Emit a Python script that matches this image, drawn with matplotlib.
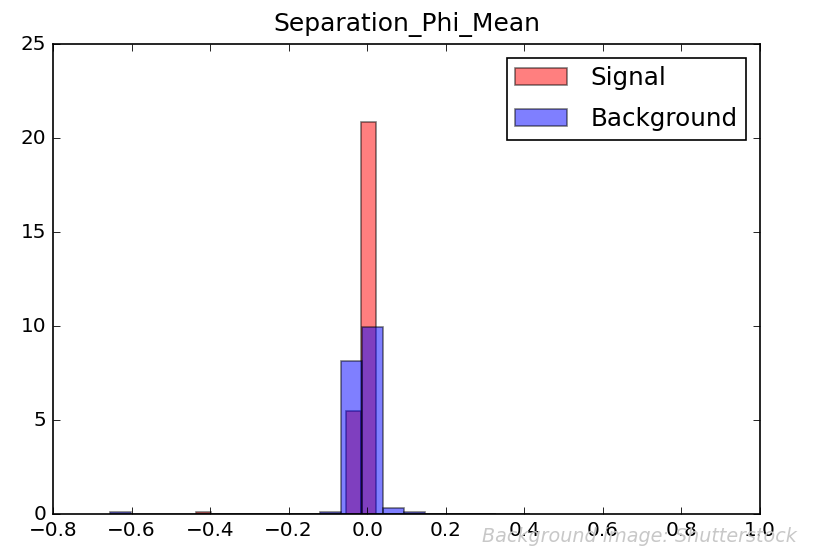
import numpy as np
import matplotlib
matplotlib.use("Agg")
import matplotlib.pyplot as plt

plt.style.use('classic')

# --- Dados (densidade por bin) ---
signal_range = (-0.436, 0.328)
signal_heights = [0.1, 0, 0, 0, 0, 0, 0, 0, 0, 0,
                  5.5, 20.85, 0, 0, 0, 0, 0, 0, 0, 0]

background_range = (-0.656, 0.414)
background_heights = [0.1, 0, 0, 0, 0, 0, 0, 0, 0, 0,
                      0.1, 8.15, 9.96, 0.32, 0.12, 0, 0, 0, 0, 0]

title = 'Separation_Phi_Mean'
labels = ['Signal', 'Background']


def edges_and_centers(rng, n):
    edges = np.linspace(rng[0], rng[1], n + 1)
    return edges, (edges[:-1] + edges[1:]) / 2


sig_edges, sig_centers = edges_and_centers(signal_range, len(signal_heights))
bkg_edges, bkg_centers = edges_and_centers(background_range, len(background_heights))

fig = plt.figure(figsize=(817 / 120, 546 / 120), dpi=120, facecolor='white')
ax = fig.add_axes([0.0649, 0.0586, 0.930 - 0.0649, 0.919 - 0.0586])

ax.hist(sig_centers, bins=sig_edges, weights=signal_heights, color='r', alpha=0.5, label=labels[0])
ax.hist(bkg_centers, bins=bkg_edges, weights=background_heights, color='b', alpha=0.5, label=labels[1])

ax.set_xlim(-0.8, 1.0)
ax.set_ylim(0, 25)
ax.set_title(title, fontsize=15, pad=8)
ax.legend(loc='upper right', fontsize=14.8, labelspacing=0.68, handletextpad=0.95,
          borderpad=0.35, handlelength=2.1, borderaxespad=0.55)

# marca d'água presente na imagem original
fig.text(0.9755, 0.018, 'Background image: Shutterstock', ha='right', va='center',
         fontsize=11.5, style='italic', color='#c8c8c8')

fig.savefig('out.png', dpi=120, facecolor='white')
